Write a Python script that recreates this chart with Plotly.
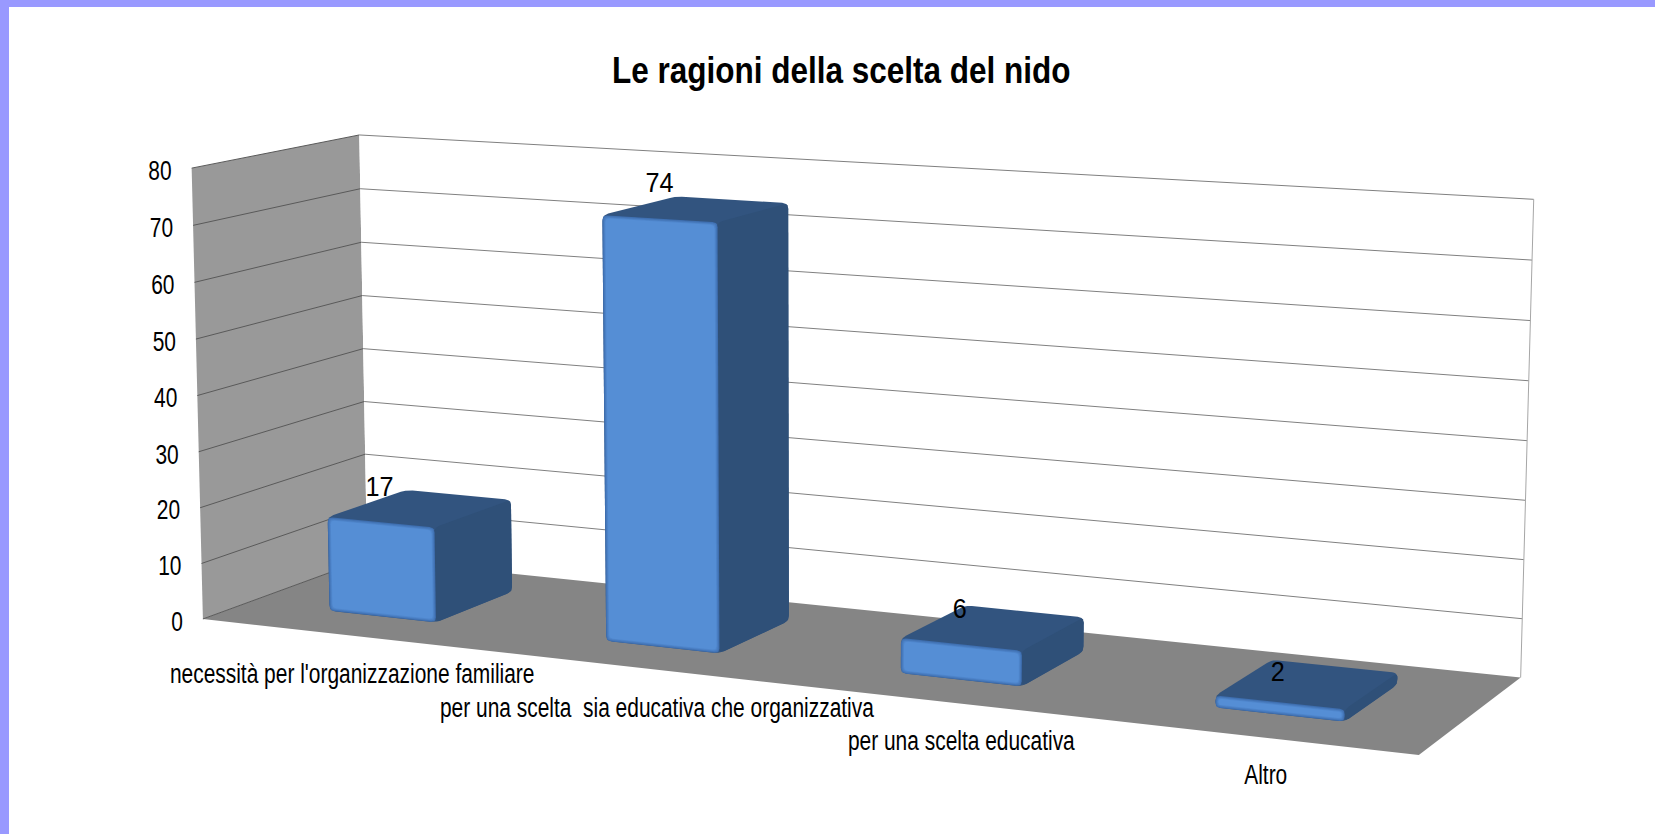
import numpy as np
import plotly.graph_objects as go

# ---- data ----
categories = ["necessità per l'organizzazione familiare",
              "per una scelta  sia educativa che organizzativa",
              "per una scelta educativa",
              "Altro"]
values = [17, 74, 6, 2]
y_ticks = [0, 10, 20, 30, 40, 50, 60, 70, 80]
title_text = "Le ragioni della scelta del nido"

W, H = 1655, 834
S = 1655 / 1568

# ---- camera: fitted from the box corners of the chart (u across, v value, d depth) ----
calib = [((0, 0, 0), (193, 586)), ((0, 80, 0), (181, 159)), ((0, 0, 1), (347, 530)),
         ((0, 80, 1), (341, 128)), ((1, 0, 1), (1441, 641)), ((1, 80, 1), (1453, 189)),
         ((1, 0, 0), (1344, 716))]
A = []
for (u, v, d), (px, py) in calib:
    p = [u, v / 80, d, 1]
    A.append(p + [0, 0, 0, 0] + [-px * c for c in p])
    A.append([0, 0, 0, 0] + p + [-py * c for c in p])
P = np.linalg.svd(np.array(A, float))[2][-1].reshape(3, 4)


def proj(u, v, d):
    q = P @ np.array([u, v / 80, d, 1.0])
    return np.array([q[0] / q[2], q[1] / q[2]]) * S


BAR_W = 0.098
BAR_SHIFT = -0.0005
D0, D1 = 0.27, 0.76
CAT_SHIFT_X = [14, 35, 37, 18]
CAT_SHIFT_Y = [40, 42, 41, 39]
VAL_SHIFT_Y = [-23, -27, -20, -14]


def inset(poly, t):
    poly = np.array(poly, float)
    n = len(poly)
    c = poly.mean(axis=0)
    lines = []
    for i in range(n):
        a, b = poly[i], poly[(i + 1) % n]
        e = (b - a) / np.linalg.norm(b - a)
        nrm = np.array([-e[1], e[0]])
        if np.dot(c - a, nrm) < 0:
            nrm = -nrm
        lines.append((a + nrm * t, e))
    out = []
    for i in range(n):
        a1, e1 = lines[i - 1]
        a2, e2 = lines[i]
        M = np.array([e1, -e2]).T
        s = np.linalg.solve(M, a2 - a1)
        out.append(a1 + e1 * s[0])
    return np.array(out)


def rounded(poly, r):
    poly = np.array(poly, float)
    n = len(poly)
    pts = []
    for i in range(n):
        p0, p1, p2 = poly[i - 1], poly[i], poly[(i + 1) % n]
        rr = min(r, np.linalg.norm(p1 - p0) * 0.45, np.linalg.norm(p2 - p1) * 0.45)
        a = p1 + (p0 - p1) / np.linalg.norm(p0 - p1) * rr
        b = p1 + (p2 - p1) / np.linalg.norm(p2 - p1) * rr
        for t in np.linspace(0, 1, 6):
            pts.append((1 - t) ** 2 * a + 2 * t * (1 - t) * p1 + t ** 2 * b)
    return np.array(pts)


fig = go.Figure()


def fill(poly, color):
    poly = np.array(poly)
    fig.add_trace(go.Scatter(x=np.r_[poly[:, 0], poly[0, 0]], y=np.r_[poly[:, 1], poly[0, 1]],
                             mode="lines", fill="toself", fillcolor=color,
                             line=dict(width=0, color=color), hoverinfo="skip", showlegend=False))


def line(a, b, color, width=1.0):
    fig.add_trace(go.Scatter(x=[a[0], b[0]], y=[a[1], b[1]], mode="lines",
                             line=dict(color=color, width=width), hoverinfo="skip", showlegend=False))


def mix(c1, c2, t):
    return "rgb(%d,%d,%d)" % tuple(round(a + (b - a) * t) for a, b in zip(c1, c2))


# walls
fill([proj(0, 0, 0), proj(0, 80, 0), proj(0, 80, 1), proj(0, 0, 1)], "#999999")
fill([proj(0, 0, 1), proj(0, 80, 1), proj(1, 80, 1), proj(1, 0, 1)], "#FFFFFF")
for t in y_ticks:
    if t > 0:
        line(proj(0, t, 0), proj(0, t, 1), "#5A5A5A")
        line(proj(0, t, 1), proj(1, t, 1), "#808080")
line(proj(1, 0, 1), proj(1, 80, 1), "#A6A6A6")
# floor
fill([proj(0, 0, 0), proj(0, 0, 1), proj(1, 0, 1), proj(1, 0, 0)], "#858585")
line(proj(0, 0, 0), proj(0, 0, 1), "#5A5A5A")

# bars
DARK = (47, 80, 120)
TOP = (50, 84, 127)
EDGE = (62, 110, 175)
FACE = (85, 142, 213)
for i, val in enumerate(values):
    cx = (i + 0.5) / len(values) + BAR_SHIFT
    u0, u1 = cx - BAR_W / 2, cx + BAR_W / 2
    f = {k: proj(*k) for k in [(u0, 0, D0), (u1, 0, D0), (u1, 0, D1), (u0, val, D0),
                               (u1, val, D0), (u1, val, D1), (u0, val, D1)]}
    sil = [f[(u0, 0, D0)], f[(u1, 0, D0)], f[(u1, 0, D1)], f[(u1, val, D1)], f[(u0, val, D1)], f[(u0, val, D0)]]
    fill(rounded(sil, 6), mix(TOP, TOP, 0))
    side = [f[(u1, 0, D0)], f[(u1, 0, D1)], f[(u1, val, D1)], f[(u1, val, D0)]]
    fill(rounded(side, 5), mix(DARK, DARK, 0))
    front = [f[(u0, 0, D0)], f[(u1, 0, D0)], f[(u1, val, D0)], f[(u0, val, D0)]]
    fill(rounded(front, 5), mix(EDGE, EDGE, 0))
    h = np.linalg.norm(front[3] - front[0])
    tmax = min(3.0, h * 0.3)
    for k in range(1, 5):
        t = tmax * k / 4
        fill(rounded(inset(front, t), 4), mix(EDGE, FACE, k / 4))

# axis labels
fig.add_trace(go.Scatter(x=[proj(0, t, 0)[0] - 20 for t in y_ticks], y=[proj(0, t, 0)[1] + 5 for t in y_ticks],
                         mode="text", text=[str(t) for t in y_ticks], textposition="middle left",
                         textfont=dict(family="Liberation Sans", size=27, color="#000"),
                         hoverinfo="skip", showlegend=False))
# data labels
for i, val in enumerate(values):
    cx = (i + 0.5) / len(values)
    p = proj(cx, val, 0.5)
    fig.add_annotation(x=p[0] - 40 + 12.7 * cx, y=p[1] + VAL_SHIFT_Y[i], text=str(val), showarrow=False,
                       font=dict(family="Liberation Sans", size=28, color="#000"))
# category labels
for i, c in enumerate(categories):
    cx = (i + 0.5) / len(categories)
    p = proj(cx, 0, 0)
    fig.add_annotation(x=p[0] + CAT_SHIFT_X[i], y=p[1] + CAT_SHIFT_Y[i], text=c.replace("  ", "&nbsp; "),
                       showarrow=False, font=dict(family="Liberation Sans", size=27, color="#000"))

fig.update_layout(
    width=W, height=H, margin=dict(l=0, r=0, t=0, b=0), paper_bgcolor="white", plot_bgcolor="white",
    xaxis=dict(range=[0, W], visible=False, fixedrange=True),
    yaxis=dict(range=[H, 0], visible=False, fixedrange=True),
    title=dict(text=title_text, x=0.5083, xanchor="center", y=1 - 70 / H, yanchor="middle",
               font=dict(family="Liberation Sans", size=36, color="#000", weight="bold")),
    shapes=[dict(type="rect", xref="paper", yref="paper", x0=0, x1=9 / W, y0=0, y1=1, fillcolor="#9999FF", line_width=0),
            dict(type="rect", xref="paper", yref="paper", x0=0, x1=1, y0=1 - 7 / H, y1=1, fillcolor="#9999FF", line_width=0)],
)

# the reference's lettering is horizontally condensed; keep it real text and squeeze it
post = """
document.body.style.margin='0';document.documentElement.style.overflow='hidden';
(function(){
  var scale={'36':0.875,'27':0.775,'28':0.9};
  function squeeze(){
    document.querySelectorAll('svg text').forEach(function(t){
      if(t.dataset.sq)return;
      var s=scale[String(parseFloat(t.style.fontSize))];
      if(!s||!t.textContent)return;
      t.setAttribute('textLength',t.getComputedTextLength()*s);
      t.setAttribute('lengthAdjust','spacingAndGlyphs');
      t.dataset.sq='1';
    });
  }
  squeeze();setTimeout(squeeze,50);setTimeout(squeeze,300);
})();
"""
fig.write_html("out.html", config=dict(displayModeBar=False), post_script=post)
